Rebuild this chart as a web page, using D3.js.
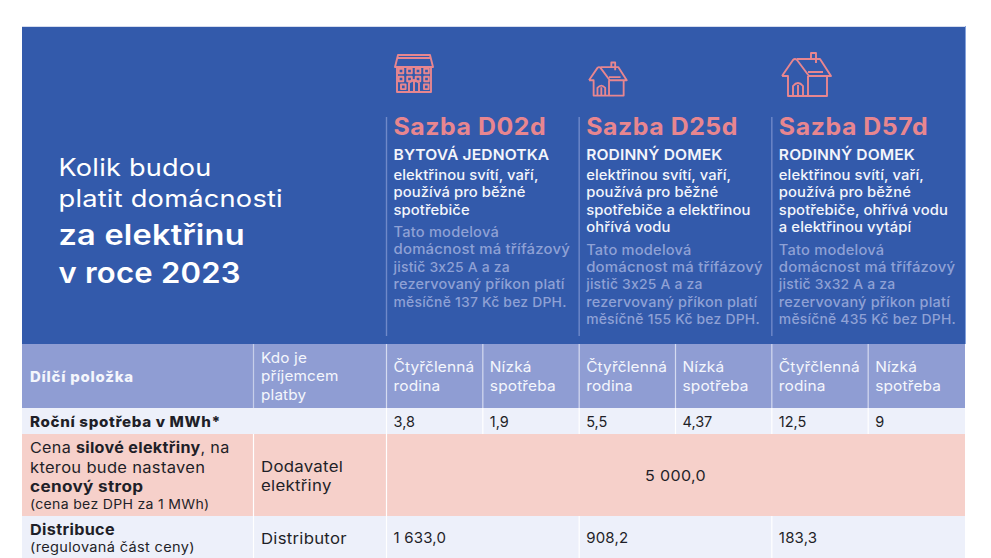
<!DOCTYPE html>
<html lang="cs"><head><meta charset="utf-8">
<script src="https://cdn.jsdelivr.net/npm/d3@7"></script>
<style>html,body{margin:0;background:#fff}svg{display:block}text{font-family:Inter,"Noto Sans",sans-serif}</style>
</head><body><svg id="c" width="991" height="558"></svg>
<script>
const titleLines = ["Kolik budou","platit domácnosti","za elektřinu","v roce 2023"];
const tariffs = ["Sazba D02d","Sazba D25d","Sazba D57d"];
const homes = ["BYTOVÁ JEDNOTKA","RODINNÝ DOMEK","RODINNÝ DOMEK"];
const uses = [
 ["elektřinou svítí, vaří,","používá pro běžné","spotřebiče"],
 ["elektřinou svítí, vaří,","používá pro běžné","spotřebiče a elektřinou","ohřívá vodu"],
 ["elektřinou svítí, vaří,","používá pro běžné","spotřebiče, ohřívá vodu","a elektřinou vytápí"]];
const notes = [
 ["Tato modelová","domácnost má třífázový","jistič 3x25 A a za","rezervovaný příkon platí","měsíčně 137 Kč bez DPH."],
 ["Tato modelová","domácnost má třífázový","jistič 3x25 A a za","rezervovaný příkon platí","měsíčně 155 Kč bez DPH."],
 ["Tato modelová","domácnost má třífázový","jistič 3x32 A a za","rezervovaný příkon platí","měsíčně 435 Kč bez DPH."]];
const profiles = [["Čtyřčlenná","rodina"],["Nízká","spotřeba"]];
const consumption = ["3,8","1,9","5,5","4,37","12,5","9"];
const powerPrice = "5 000,0";
const distribution = ["1 633,0","908,2","183,3"];
const colKeys = ["a","b","c","d","e","f"];

const svg = d3.select("#c");
const BLUE="#335aab", HEAD="#8f9dd3", LIGHT="#edf0fa", PINK="#f6d0ca", CORAL="#e8868f", DARK="#1f1f28", GREY="#8fa1d5";
const x = d3.scaleBand().domain(colKeys).range([386,964]);
const left=22, col2=253;
const rowY = {top:27,head:344,r1:408,r2:434,r3:516,end:558};

function rect(x0,y0,x1,y1,fill){svg.append("rect").attr("x",x0).attr("y",y0).attr("width",x1-x0).attr("height",y1-y0).attr("fill",fill);}
function txt(px,py,s,o){
  const t=svg.append("text").attr("transform",`translate(${px},${py}) scale(${o.k||1},1)`)
   .attr("font-size",o.size).attr("fill",o.fill||DARK).attr("font-weight",o.w||400)
   .attr("letter-spacing",o.sp||0).attr("text-anchor",o.anchor||"start");
  if(Array.isArray(s)) s.forEach(p=>t.append("tspan").attr("font-weight",p[1]?700:400).text(p[0]));
  else t.text(s);
  return t;
}
// panels
rect(left,rowY.top,965,rowY.head,BLUE);
svg.append("line").attr("x1",left).attr("x2",966).attr("y1",26.5).attr("y2",26.5).attr("stroke","#d5dcee");
svg.append("line").attr("x1",965.5).attr("x2",965.5).attr("y1",26).attr("y2",344).attr("stroke","#86a3dc");
rect(left,rowY.head,965,rowY.r1,HEAD);
rect(left,rowY.r1,965,rowY.r2,LIGHT);
rect(left,rowY.r2,965,rowY.r3,PINK);
rect(left,rowY.r3,965,rowY.end,LIGHT);

// title
const tY=[176,207,245,283], tS=[24,24,28.5,28.5], tW=[400,400,600,600], tK=[1.13,1.135,1.14,1.09];
titleLines.forEach((t,i)=>txt(58.5,tY[i],t,{size:tS[i],fill:"#fff",w:tW[i],k:tK[i],sp:.2}));

// tariffs
const groupX = i=>x(colKeys[i*2]);
const noteK=[1.06,1.08,1.01,1.05,1.01];
tariffs.forEach((t,i)=>{
  const gx=groupX(i)+7.5;
  svg.append("line").attr("x1",groupX(i)+.5).attr("x2",groupX(i)+.5).attr("y1",117).attr("y2",336).attr("stroke","#7089c9").attr("stroke-width",1.4);
  txt(gx,135,t,{size:24,fill:CORAL,w:700,sp:.55,k:1.035});
  txt(gx,160,homes[i],{size:15,fill:"#f3f5fb",w:600,sp:.12,k:1.04});
  uses[i].forEach((u,j)=>txt(gx,180+j*17.4,u,{size:13.8,fill:"#f3f5fb",w:500,sp:.1,k:1.07}));
  const base=i==0?237:254.5;
  notes[i].forEach((u,j)=>txt(gx,base+j*17.4,u,{size:13.8,fill:GREY,w:500,sp:.2,k:noteK[j]}));
});

// icons (local coordinates, placed per tariff)
function apt(g){
  g.append("path").attr("d","M1 14L4 2H36L39 14ZM4 5H36M3 14V39H37V14M15 39V30Q20 24 25 30V39M20 28V39");
  [7,15.5,24,32.5].forEach(cx=>[18,26].forEach(cy=>g.append("rect").attr("x",cx-2.3).attr("y",cy-2.3).attr("width",4.6).attr("height",4.6)));
  [7,30].forEach(cx=>g.append("rect").attr("x",cx).attr("y",31.5).attr("width",4.6).attr("height",4.6));
}
function house(g){
  g.append("path").attr("d","M0 23L11 7Q13 5 15 7L27 23H49L38 6H15M0 23H6V43H45V23M26 23V43M11 43V33Q16 27 21 33V43M16 32V43M29 6V0H34V10M26 19H41");
}
const ink=g=>g.attr("fill","none").attr("stroke",CORAL).attr("stroke-width",1.9).attr("stroke-linejoin","round");
apt(svg.append("g").call(ink).attr("transform","translate(394,53)"));
house(svg.append("g").call(ink).attr("transform","translate(589,62.5) scale(.77)").attr("stroke-width",2.4));
house(svg.append("g").call(ink).attr("transform","translate(782,53)"));

// table grid
const W="#fff";
function vline(px,y0,y1,c){svg.append("line").attr("x1",px).attr("x2",px).attr("y1",y0).attr("y2",y1).attr("stroke",c||W).attr("stroke-width",1.2);}
[col2+.5].forEach(p=>{vline(p,rowY.head,rowY.r1,"#c7cfea");vline(p,rowY.r2,rowY.end);});
colKeys.forEach((k,i)=>{
  vline(x(k)+.5,rowY.head,rowY.r1, "#d5dbf0");
  vline(x(k)+.5,rowY.r1,rowY.r2);
  if(i==0){vline(x(k)+.5,rowY.r2,rowY.end);}
  else if(i%2==0){vline(x(k)+.5,rowY.r3,rowY.end);}
});

// header row
const hd="#f4f6fc";
txt(30,382,"Dílčí položka",{size:14.5,fill:hd,w:800,sp:.75,k:1.03});
["Kdo je","příjemcem","platby"].forEach((t,i)=>txt(261,363+i*18.3,t,{size:14.5,fill:hd,sp:.15,k:1.055}));
colKeys.forEach((k,i)=>profiles[i%2].forEach((t,j)=>txt(x(k)+7.5,372+j*19,t,{size:14.5,fill:hd,sp:.15,k:1.065})));

// row 1
txt(30,427,"Roční spotřeba v MWh*",{size:14.5,w:800,sp:.62,k:1.045});
svg.selectAll("text.cons").data(consumption).join("text").attr("class","cons")
 .attr("x",(d,i)=>x(colKeys[i])+7.5).attr("y",427).attr("font-size",14.5).attr("fill",DARK).text(d=>d);

// row 2
txt(30,453,[["Cena ",0],["silové elektřiny",1],[", na",0]],{size:15,sp:.3,k:1.075});
txt(30,472.5,[["kterou bude nastaven",0]],{size:15,sp:.3,k:1.1});
txt(30,491.5,[["cenový strop",1]],{size:15,sp:.3,k:1.14});
txt(30,509,[["(cena bez DPH za 1 MWh)",0]],{size:13,sp:.3,k:1.08});
["Dodavatel","elektřiny"].forEach((t,i)=>txt(261,472+i*19,t,{size:15,sp:.25,k:1.12}));
txt((x("a")+965)/2,481,powerPrice,{size:15,sp:.3,anchor:"middle",k:1.07});

// row 3
txt(30,535,[["Distribuce",1]],{size:15,sp:.3,k:1.08});
txt(30,552,[["(regulovaná část ceny)",0]],{size:13,sp:.3,k:1.12});
txt(261,544,"Distributor",{size:15,sp:.25,k:1.115});
distribution.forEach((d,i)=>txt(groupX(i)+7.5,543,d,{size:15,sp:.2}));
</script></body></html>
